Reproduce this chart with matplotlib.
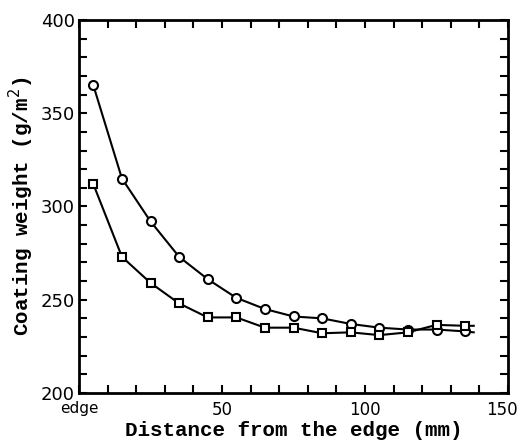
import numpy as np
import matplotlib
matplotlib.use("Agg")
import matplotlib.pyplot as plt
from matplotlib.ticker import MultipleLocator
from matplotlib.transforms import offset_copy

# distance from the edge (mm); last entry is where the drawn line stops (no marker)
dist = [5, 15, 25, 35, 45, 55, 65, 75, 85, 95, 105, 115, 125, 135, 138]
# coating weight (g/m2)
circ = [365, 315, 292, 273, 261, 251, 245, 241, 240, 237, 235, 234, 234, 233, 232.5]
sqr = [312, 273, 259, 248, 240.5, 240.5, 235, 235, 232, 232.5, 231, 232.5, 236.5, 236, 236]

xticks = [0, 50, 100, 150]
xticklabels = ["edge", "50", "100", "150"]
yticks = [200, 250, 300, 350, 400]

fig = plt.figure(figsize=(5.2, 4.46), dpi=100)
ax = fig.add_axes([0.152, 0.119, 0.825, 0.836])

n = len(dist) - 1
ax.plot(dist, circ, "-", color="black", lw=1.5, marker="o", ms=6.5,
        mfc="white", mec="black", mew=1.5, markevery=list(range(n)))
ax.plot(dist, sqr, "-", color="black", lw=1.5, marker="s", ms=5.5,
        mfc="white", mec="black", mew=1.5, markevery=list(range(n)))

ax.set_xlim(0, 150)
ax.set_ylim(200, 400)
ax.set_xticks(xticks)
ax.set_xticklabels(xticklabels)
ax.set_yticks(yticks)
ax.xaxis.set_minor_locator(MultipleLocator(10))
ax.yaxis.set_minor_locator(MultipleLocator(10))

for s in ax.spines.values():
    s.set_linewidth(2)
ax.tick_params(which="both", direction="in", top=True, right=True,
               length=6, width=1.5, labelsize=12, pad=2)
ax.tick_params(axis="x", pad=6)
ax.tick_params(axis="y", labelsize=13, pad=3)
for lab in ax.get_xticklabels() + ax.get_yticklabels():
    lab.set_fontfamily("DejaVu Sans")
xl = ax.get_xticklabels()
xl[0].set_fontsize(11)

ax.set_xlabel("Distance from the edge (mm)", family="Liberation Mono",
              fontweight="bold", fontsize=15, labelpad=1)
ax.set_ylabel("Coating weight (g/m$^2$)", family="Liberation Mono",
              fontweight="bold", fontsize=15, labelpad=3)

fig.canvas.draw()
# pull the "150" label in so it stays on the page
last = ax.get_xticklabels()[-1]
last.set_transform(offset_copy(last.get_transform(), fig=fig, x=-6, units="dots"))

fig.savefig("out.png", dpi=100)
